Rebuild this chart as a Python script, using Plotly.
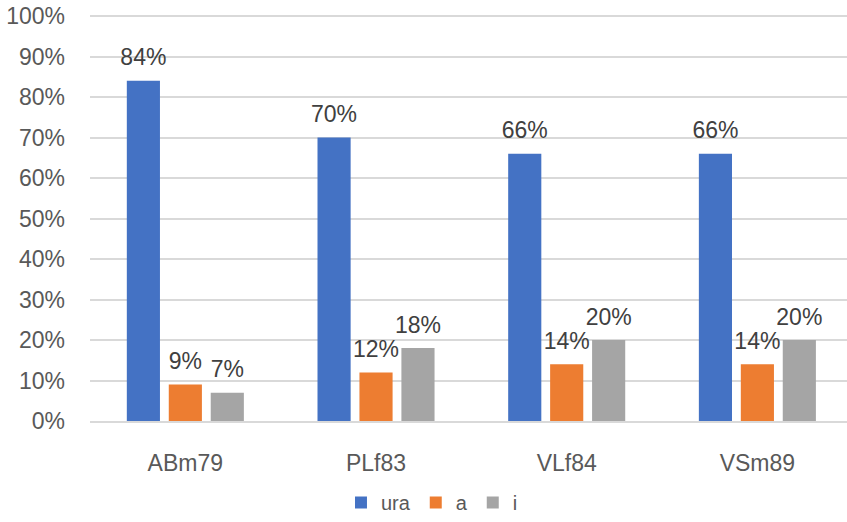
import plotly.graph_objects as go

categories = ["ABm79", "PLf83", "VLf84", "VSm89"]
series_names = ["ura", "a", "i"]
ura = [0.84, 0.70, 0.66, 0.66]
a = [0.09, 0.12, 0.14, 0.14]
i_vals = [0.07, 0.18, 0.20, 0.20]
colors = ["#4472C4", "#ED7D31", "#A5A5A5"]
y_ticks = [0, 0.1, 0.2, 0.3, 0.4, 0.5, 0.6, 0.7, 0.8, 0.9, 1.0]

FONT = "Liberation Sans"
fig = go.Figure()
for name, vals, col in zip(series_names, [ura, a, i_vals], colors):
    fig.add_trace(go.Bar(
        x=categories, y=vals, name=name, marker=dict(color=col, line=dict(width=0)),
        offsetgroup=name,
    ))
for name, vals in zip(series_names, [ura, a, i_vals]):
    fig.add_trace(go.Scatter(
        x=categories, y=vals, mode="markers+text", showlegend=False, hoverinfo="skip",
        offsetgroup=name, marker=dict(size=14, opacity=0),
        text=[f"{round(v*100)}%" for v in vals], textposition="top center",
        textfont=dict(family=FONT, size=23, color="#404040"), cliponaxis=False,
    ))

fig.update_layout(
    width=847, height=522, barmode="group", bargap=0.34, bargroupgap=0.21,
    scattermode="group", scattergap=0.34,
    plot_bgcolor="white", paper_bgcolor="white",
    margin=dict(l=90, r=0, t=14, b=101),
    font=dict(family=FONT, size=23, color="#595959"),
    xaxis=dict(range=[-0.5, 3.47], showline=True, linecolor="#D9D9D9", linewidth=1.5,
               ticks="", tickfont=dict(size=23, color="#595959"), showgrid=False,
               automargin=False, ticklabelstandoff=21),
    yaxis=dict(range=[0, 1.005], tickvals=y_ticks, tickformat=".0%", showgrid=True,
               gridcolor="#D9D9D9", gridwidth=1.5, zeroline=False, ticks="",
               tickfont=dict(size=23, color="#595959"), ticklabelstandoff=24,
               automargin=False, ticklabeloverflow="allow"),
    legend=dict(orientation="h", xref="container", yref="container", x=0.51, y=0.0,
                xanchor="center", yanchor="bottom", font=dict(size=20, color="#595959"),
                itemwidth=30, traceorder="normal"),
    showlegend=True,
)
fig.write_html("out.html", config={"displayModeBar": False},
               post_script="document.body.style.margin='0px';")
